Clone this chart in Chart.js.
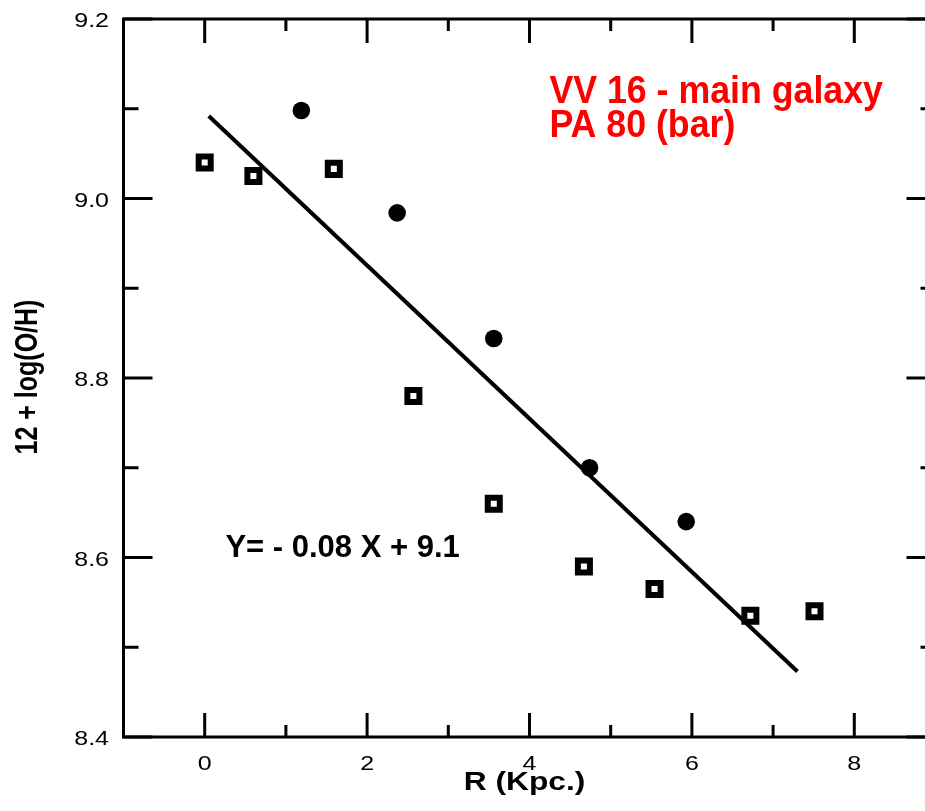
<!DOCTYPE html>
<html><head><meta charset="utf-8">
<script src="https://cdn.jsdelivr.net/npm/chart.js@4"></script>
<style>html,body{margin:0;padding:0;overflow:hidden;background:#fff}</style>
</head><body>
<div style="width:925px;height:811px;overflow:hidden;position:relative">
<canvas id="c" width="960" height="811" style="width:960px;height:811px;display:block"></canvas>
</div>
<script>
// ---- data ----
const openR   = [0.00, 0.60, 1.59, 2.57, 3.56, 4.67, 5.54, 6.72, 7.51];
const openOH  = [9.040, 9.025, 9.033, 8.780, 8.660, 8.590, 8.565, 8.535, 8.540];
const filledR = [1.19, 2.37, 3.56, 4.74, 5.93];
const filledOH= [9.098, 8.984, 8.844, 8.700, 8.640];
const fitR    = [0.05, 7.30];
const fitOH   = [9.092, 8.473];
const xTicks  = [0, 2, 4, 6, 8];
const xMinor  = [1, 3, 5, 7];
const yTicks  = [8.4, 8.6, 8.8, 9.0, 9.2];
const yMinor  = [8.5, 8.7, 8.9, 9.1];
const xTitle  = 'R (Kpc.)';
const yTitle  = '12 + log(O/H)';
const titleLines = ['VV 16 - main galaxy', 'PA 80 (bar)'];
const equation = 'Y= - 0.08 X + 9.1';

const FONT = '"Liberation Sans", Arial, Helvetica, sans-serif';
const pts = (xs, ys) => xs.map((x, i) => ({x, y: ys[i]}));

function stretchedText(ctx, text, x, y, sx, align) {
  ctx.save();
  ctx.translate(x, y);
  ctx.scale(sx, 1);
  ctx.textAlign = align;
  ctx.fillText(text, 0, 0);
  ctx.restore();
}

const framePlugin = {
  id: 'frame',
  afterDraw(chart) {
    const {ctx, chartArea: a, scales: {x, y}} = chart;
    ctx.save();
    ctx.strokeStyle = '#000';
    ctx.lineWidth = 3;
    ctx.lineCap = 'butt';
    ctx.strokeRect(a.left, a.top, a.right - a.left, a.bottom - a.top);
    ctx.beginPath();
    const tx = (vals, len) => vals.forEach(v => {
      const px = x.getPixelForValue(v);
      ctx.moveTo(px, a.bottom); ctx.lineTo(px, a.bottom - len);
      ctx.moveTo(px, a.top); ctx.lineTo(px, a.top + len);
    });
    const ty = (vals, len) => vals.forEach(v => {
      const py = y.getPixelForValue(v);
      ctx.moveTo(a.left, py); ctx.lineTo(a.left + len, py);
      ctx.moveTo(a.right, py); ctx.lineTo(a.right - len, py);
    });
    tx(xTicks, 24); tx(xMinor, 12);
    ty(yTicks, 29); ty(yMinor, 15);
    ctx.stroke();

    // tick labels (from the scales' own ticks)
    ctx.fillStyle = '#000';
    ctx.textBaseline = 'alphabetic';
    ctx.font = '20px ' + FONT;
    x.ticks.forEach(t => stretchedText(ctx, String(t.value), x.getPixelForValue(t.value), a.bottom + 33, 1.25, 'center'));
    y.ticks.forEach(t => stretchedText(ctx, t.value.toFixed(1), a.left - 14.5, y.getPixelForValue(t.value) + 8, 1.25, 'right'));

    // axis titles
    ctx.font = 'bold 26px ' + FONT;
    stretchedText(ctx, xTitle, (a.left + a.right) / 2 - 5, a.bottom + 53, 1.22, 'center');
    ctx.save();
    ctx.font = 'bold 25px ' + FONT;
    ctx.translate(37, (a.top + a.bottom) / 2 - 1);
    ctx.rotate(-Math.PI / 2);
    ctx.scale(1, 1.25);
    ctx.textAlign = 'center';
    ctx.fillText(yTitle, 0, 0);
    ctx.restore();

    // annotations
    ctx.fillStyle = '#ff0000';
    ctx.font = 'bold 38px ' + FONT;
    const tx0 = x.getPixelForValue(4.245);
    stretchedText(ctx, titleLines[0], tx0, y.getPixelForValue(9.106), 0.94, 'left');
    stretchedText(ctx, titleLines[1], tx0, y.getPixelForValue(9.068), 0.94, 'left');
    ctx.fillStyle = '#000';
    ctx.font = 'bold 31px ' + FONT;
    stretchedText(ctx, equation, x.getPixelForValue(0.255), y.getPixelForValue(8.6006), 1.0, 'left');
    ctx.restore();
  }
};

new Chart(document.getElementById('c'), {
  type: 'scatter',
  data: {
    datasets: [
      { label: 'fit', data: pts(fitR, fitOH), showLine: true, borderColor: '#000', borderWidth: 4,
        pointRadius: 0, fill: false, tension: 0 },
      { label: 'filled', data: pts(filledR, filledOH), pointStyle: 'circle', pointRadius: 8.8,
        backgroundColor: '#000', borderColor: '#000', borderWidth: 0 },
      { label: 'open', data: pts(openR, openOH), pointStyle: 'rect', pointRadius: 8.5,
        backgroundColor: '#fff', borderColor: '#000', borderWidth: 6 }
    ]
  },
  options: {
    responsive: false,
    animation: false,
    devicePixelRatio: 1,
    layout: { padding: { top: 19, left: 0, right: 24.5, bottom: 0 } },
    plugins: { legend: { display: false }, tooltip: { enabled: false } },
    scales: {
      x: {
        type: 'linear', min: -1, max: 9,
        afterBuildTicks: s => { s.ticks = xTicks.map(v => ({value: v})); },
        afterFit: s => { s.height = 74; s.paddingLeft = 0; s.paddingRight = 0; },
        grid: { display: false, drawTicks: false },
        border: { display: false },
        ticks: { display: false },
        title: { display: false, text: xTitle }
      },
      y: {
        type: 'linear', min: 8.4, max: 9.2,
        afterBuildTicks: s => { s.ticks = yTicks.map(v => ({value: v})); },
        afterFit: s => { s.width = 123.5; s.paddingTop = 0; s.paddingBottom = 0; },
        grid: { display: false, drawTicks: false },
        border: { display: false },
        ticks: { display: false },
        title: { display: false, text: yTitle }
      }
    }
  },
  plugins: [framePlugin]
});
</script>
</body></html>
